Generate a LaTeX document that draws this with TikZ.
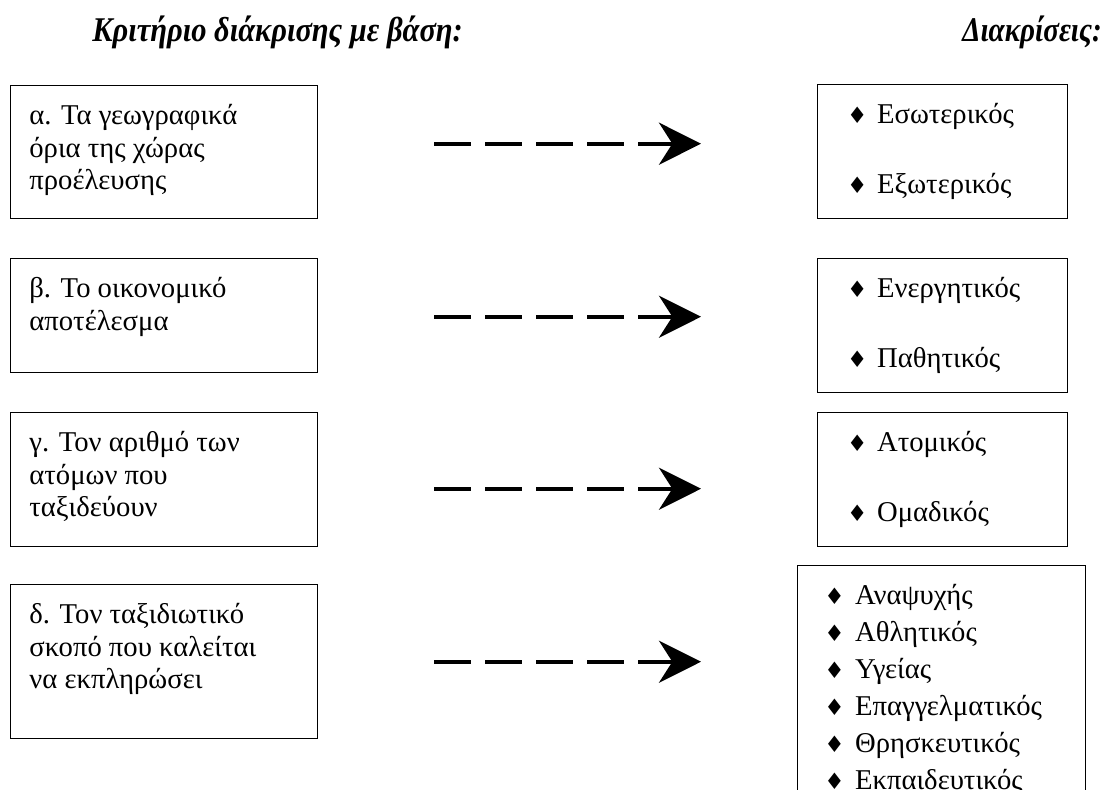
\documentclass[tikz,border=0pt]{standalone}
\usepackage{fontspec}
\setmainfont{Liberation Serif}
\newfontfamily\symfont{DejaVu Sans}
\usetikzlibrary{arrows.meta}

\newcommand\boxtext[3]{\parbox[c][#1][t]{#2}{\raggedright\strut #3}}
\newcommand\bul[2]{\makebox[#1][l]{{\symfont\fontsize{17}{17}\selectfont ♦}}\mbox{#2}}

\begin{document}
\begin{tikzpicture}[x=0.75pt,y=-0.75pt]

\tikzset{critbox/.style={draw,line width=1.1pt,anchor=north west,inner xsep=14pt,inner ysep=12pt,font=\fontsize{21.5}{24.5}\selectfont},}
\tikzset{kindbox/.style={draw,line width=1.1pt,anchor=north west,inner xsep=22pt,inner ysep=11.5pt,font=\fontsize{21.5}{25.5}\selectfont},}
\tikzset{kindbox2/.style={draw,line width=1.1pt,anchor=north west,inner xsep=20pt,inner ysep=9.5pt,font=\fontsize{21.5}{27.75}\selectfont},}
\tikzset{head/.style={inner sep=0pt,font=\bfseries\itshape\fontsize{26}{26}\selectfont},}
\tikzset{dasharrow/.style={line width=3pt,dash pattern=on 27.75pt off 10.5pt,-{Stealth[length=31.5pt,width=31.5pt,inset=10pt]},shorten <=87pt,shorten >=87pt},}

\clip (0,0) rectangle (1110,789);

%TITOLI
\draw (92,32) node [head,anchor=west] (crithead) {\scalebox{0.88}[1]{Κριτήριο διάκρισης με βάση:}};
\draw (1102,32) node [head,anchor=east] (kindhead) {\scalebox{0.84}[1]{Διακρίσεις:}};

%CRITERI
\draw (10,85) node [critbox] (crita) {\boxtext{75.75pt}{202pt}{α. Τα γεωγραφικά\\ όρια της χώρας\\ προέλευσης}};
\draw (10,258) node [critbox] (critb) {\boxtext{61.5pt}{202pt}{β. Το οικονομικό\\ αποτέλεσμα}};
\draw (10,412) node [critbox] (critc) {\boxtext{76.5pt}{202pt}{γ. Τον αριθμό των\\ ατόμων που\\ ταξιδεύουν}};
\draw (10,584) node [critbox] (critd) {\boxtext{91.5pt}{202pt}{δ. Τον ταξιδιωτικό\\ σκοπό που καλείται\\ να εκπληρώσει}};

%DIAKRISEIS
\draw (817,84) node [kindbox] (kinda) {\boxtext{77.5pt}{143.5pt}{\bul{22.5pt}{Εσωτερικός}\\[27pt] \bul{22.5pt}{Εξωτερικός}}};
\draw (817,258) node [kindbox] (kindb) {\boxtext{77.5pt}{143.5pt}{\bul{22.5pt}{Ενεργητικός}\\[27pt] \bul{22.5pt}{Παθητικός}}};
\draw (817,412) node [kindbox] (kindc) {\boxtext{77.5pt}{143.5pt}{\bul{22.5pt}{Ατομικός}\\[27pt] \bul{22.5pt}{Ομαδικός}}};
\draw (797,565) node [kindbox2] (kindd) {\boxtext{165pt}{176pt}{\bul{23pt}{Αναψυχής}\\ \bul{23pt}{Αθλητικός}\\ \bul{23pt}{Υγείας}\\ \bul{23pt}{Επαγγελματικός}\\ \bul{23pt}{Θρησκευτικός}\\ \bul{23pt}{Εκπαιδευτικός}}};

%FRECCE
\draw[dasharrow] ([yshift=6.4pt]crita.east) -- ([yshift=6.4pt]crita.east -| kinda.west);
\draw[dasharrow] ([yshift=-0.75pt]critb.east) -- ([yshift=-0.75pt]critb.east -| kindb.west);
\draw[dasharrow] ([yshift=-6.75pt]critc.east) -- ([yshift=-6.75pt]critc.east -| kindc.west);
\draw[dasharrow,shorten >=72pt] (critd.east) -- (critd.east -| kindd.west);

\end{tikzpicture}
\end{document}
